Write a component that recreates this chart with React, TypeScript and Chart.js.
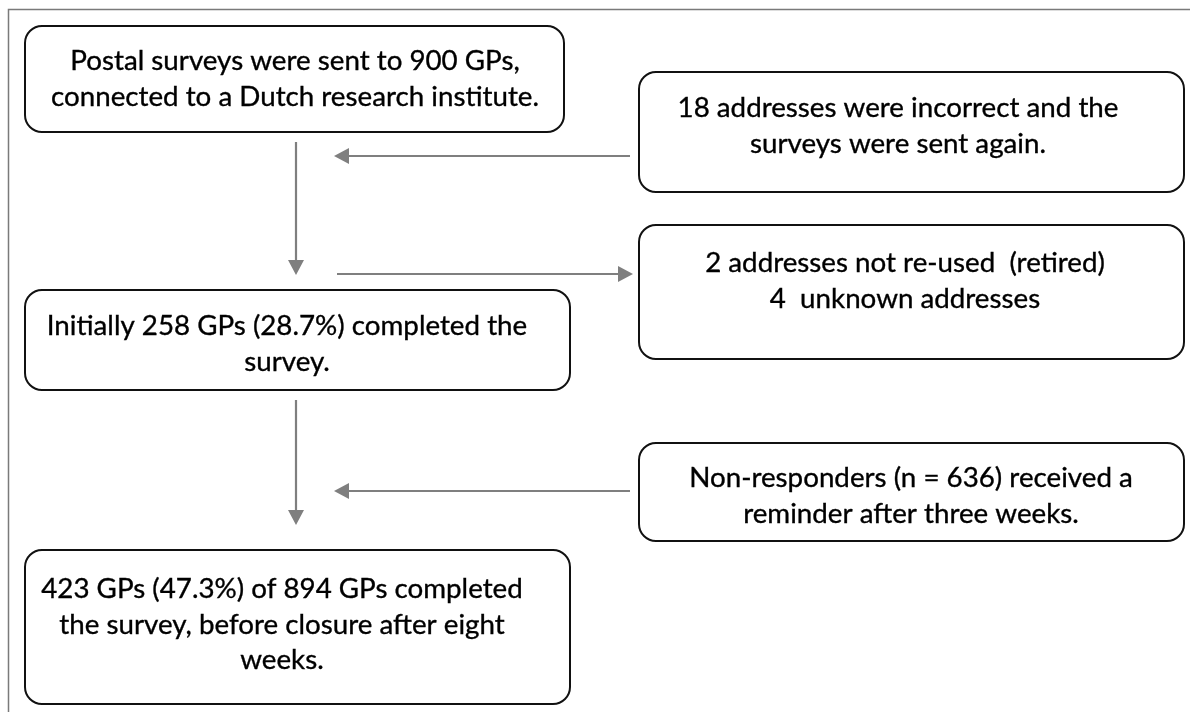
import React, { useEffect, useRef } from "react";
import { Chart, registerables } from "chart.js";

Chart.register(...registerables);

// ---- content ----
const box1Lines = ["Postal surveys were sent to 900 GPs,", "connected to a Dutch research institute."];
const box2Lines = ["18 addresses were incorrect and the", "surveys were sent again."];
const box3Lines = ["2 addresses not re-used  (retired)", "4  unknown addresses"];
const box4Lines = ["Initially 258 GPs (28.7%) completed the", "survey."];
const box5Lines = ["Non-responders (n = 636) received a", "reminder after three weeks."];
const box6Lines = ["423 GPs (47.3%) of 894 GPs completed", "the survey, before closure after eight", "weeks."];

// reference line widths (used only to fit the font size)
const refWidths = [
  [404, 465],
  [449, 312],
  [410, 287],
  [488, 69],
  [425, 338],
  [478, 477, 61],
];

// ---- layout (chart units: x 0..1190, y 0..712 top-down) ----
type Box = { lines: string[]; x0: number; y0: number; x1: number; y1: number; cx: number; base: number };
const boxes: Box[] = [
  { lines: box1Lines, x0: 25, y0: 26, x1: 564, y1: 132, cx: 295, base: 70 },
  { lines: box2Lines, x0: 639, y0: 72, x1: 1184, y1: 192, cx: 898, base: 117 },
  { lines: box3Lines, x0: 639, y0: 225, x1: 1184, y1: 359, cx: 905, base: 272 },
  { lines: box4Lines, x0: 25, y0: 290, x1: 570, y1: 390, cx: 287, base: 335 },
  { lines: box5Lines, x0: 639, y0: 443, x1: 1184, y1: 541, cx: 911, base: 487 },
  { lines: box6Lines, x0: 25, y0: 550, x1: 570, y1: 704, cx: 282, base: 598 },
];
// arrows: from (x0,y0) to tip (x1,y1)
const arrows = [
  [296, 142, 296, 275],
  [630, 156, 334, 156],
  [337, 274, 633, 274],
  [296, 400, 296, 525],
  [630, 491, 334, 491],
];
const lineGap = 35.5;
const FONT_FAMILY = "Lato, 'Open Sans', sans-serif";

const flowPlugin = {
  id: "flow",
  afterDraw(chart: any) {
    const ctx: CanvasRenderingContext2D = chart.ctx;
    const xs = chart.scales.x;
    const ys = chart.scales.y;
    const X = (v: number) => xs.getPixelForValue(v);
    const Y = (v: number) => ys.getPixelForValue(v);

    ctx.save();
    // frame
    ctx.strokeStyle = "#7a7a7a";
    ctx.lineWidth = 1.5;
    ctx.beginPath();
    ctx.moveTo(X(8.5), Y(712));
    ctx.lineTo(X(8.5), Y(9.5));
    ctx.lineTo(X(1190), Y(9.5));
    ctx.stroke();

    // fit font size to reference widths
    let size = 22;
    ctx.font = `${size}px ${FONT_FAMILY}`;
    let sm = 0, st = 0;
    boxes.forEach((b, bi) => {
      b.lines.forEach((ln, li) => {
        const t = refWidths[bi][li];
        if (t > 200) {
          sm += ctx.measureText(ln).width;
          st += t;
        }
      });
    });
    size = size * (st / sm);
    ctx.font = `${size}px ${FONT_FAMILY}`;

    // boxes
    for (const b of boxes) {
      const x0 = X(b.x0), x1 = X(b.x1), y0 = Y(b.y0), y1 = Y(b.y1);
      ctx.beginPath();
      (ctx as any).roundRect(x0, y0, x1 - x0, y1 - y0, 17);
      ctx.fillStyle = "#ffffff";
      ctx.fill();
      ctx.strokeStyle = "#111111";
      ctx.lineWidth = 2;
      ctx.stroke();
      ctx.fillStyle = "#000000";
      ctx.strokeStyle = "#000000";
      ctx.lineWidth = 0.35;
      ctx.textAlign = "center";
      ctx.textBaseline = "alphabetic";
      b.lines.forEach((ln, i) => {
        const px = X(b.cx), py = Y(b.base + i * lineGap);
        ctx.fillText(ln, px, py);
        ctx.strokeText(ln, px, py);
      });
    }

    // arrows
    ctx.strokeStyle = "#7f7f7f";
    ctx.fillStyle = "#7f7f7f";
    ctx.lineWidth = 2.2;
    for (const a of arrows) {
      const sx = X(a[0]), sy = Y(a[1]), tx = X(a[2]), ty = Y(a[3]);
      const ang = Math.atan2(ty - sy, tx - sx);
      const hl = 15, hw = 8;
      const bx = tx - hl * Math.cos(ang), by = ty - hl * Math.sin(ang);
      ctx.beginPath();
      ctx.moveTo(sx, sy);
      ctx.lineTo(bx, by);
      ctx.stroke();
      ctx.beginPath();
      ctx.moveTo(tx, ty);
      ctx.lineTo(bx + hw * Math.sin(ang), by - hw * Math.cos(ang));
      ctx.lineTo(bx - hw * Math.sin(ang), by + hw * Math.cos(ang));
      ctx.closePath();
      ctx.fill();
    }
    ctx.restore();
  },
};

export default function App() {
  const ref = useRef<HTMLCanvasElement | null>(null);
  useEffect(() => {
    document.body.style.margin = "0";
    if (!ref.current) return;
    const chart = new Chart(ref.current, {
      type: "scatter",
      data: { datasets: [{ data: [] }] },
      options: {
        responsive: false,
        animation: false,
        layout: { padding: 0 },
        plugins: { legend: { display: false }, tooltip: { enabled: false } },
        scales: {
          x: { type: "linear", min: 0, max: 1190, display: false },
          y: { type: "linear", min: 0, max: 712, reverse: true, display: false },
        },
      },
      plugins: [flowPlugin],
    });
    return () => chart.destroy();
  }, []);
  return (
    <div style={{ width: 1190, height: 712, background: "#fff" }}>
      <canvas ref={ref} width={1190} height={712} style={{ display: "block" }} />
    </div>
  );
}
